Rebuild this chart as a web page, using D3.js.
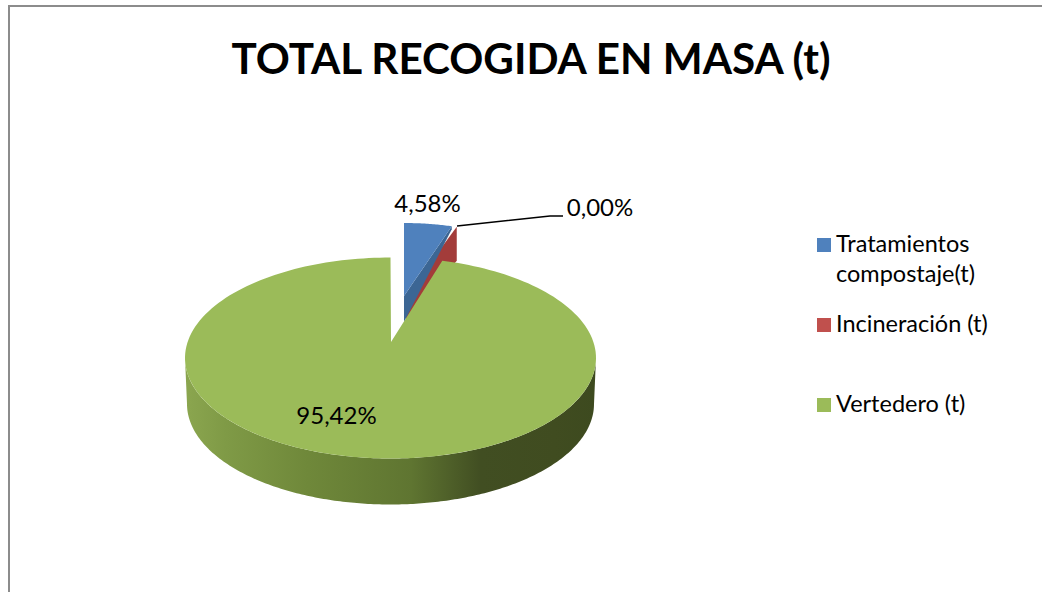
<!DOCTYPE html>
<html><head><meta charset="utf-8">
<script src="https://cdn.jsdelivr.net/npm/d3@7"></script>
<style>html,body{margin:0;padding:0;background:#fff}svg{display:block}text{font-family:Lato,"Open Sans",sans-serif;fill:#000}</style>
</head><body><svg id="c" width="1042" height="592"></svg>
<script>
const titleText = "TOTAL RECOGIDA EN MASA (t)";
const categories = ["Tratamientos compostaje(t)", "Incineración (t)", "Vertedero (t)"];
const legendLines = [["Tratamientos", "compostaje(t)"], ["Incineración (t)"], ["Vertedero (t)"]];
const values = [4.58, 0.00, 95.42];
const valueLabels = ["4,58%", "0,00%", "95,42%"];
const colors = ["#4f81bd", "#c0504d", "#9bbb59"];
const sideColors = ["#3c6694", "#a33c3a", "#6c8339"];

const svg = d3.select("#c");
const defs = svg.append("defs");
const grad = defs.append("linearGradient").attr("id","side").attr("gradientUnits","userSpaceOnUse")
  .attr("x1",185).attr("x2",596).attr("y1",0).attr("y2",0);
[[0,"#8ba64f"],[0.1,"#7f9a46"],[0.3,"#6f883a"],[0.55,"#5f7531"],[0.72,"#414e22"],[0.9,"#404c20"],[1,"#3d4a1f"]]
  .forEach(([o,c])=>grad.append("stop").attr("offset",o).attr("stop-color",c));

// chart frame: top and left edges only, as cropped in the picture
svg.append("path").attr("d","M9,592V6H1042").attr("fill","none").attr("stroke","#8c8c8c").attr("stroke-width",2);

svg.append("text").attr("x",531).attr("y",74).attr("text-anchor","middle")
  .attr("font-size",42.2).attr("font-weight",700).text(titleText);

// pie geometry
const pie = d3.pie().sort(null).value(d=>d);
const arcs = pie(values);
const geo = {cx:390.5, cy:358, rx:205.5, ry:100.5, depth:46, k:0.88};
const offsets = [
  {dx:13.5,dy:-34.5,shrink:16,hub:[404,296]},
  {dx:18.5,dy:-34,shrink:16,hub:[406,296]},
  {dx:0,dy:0,shrink:0,hub:[391,342]}
];
// angle foreshortened by the 3D view, then placed on the ellipse
const view = t=>Math.atan2(geo.k*Math.sin(t),Math.cos(t));
const rim = (t,o,shrink=o.shrink,dy=0)=>{
  const v=view(t);
  return [geo.cx+o.dx+(geo.rx-shrink)*Math.sin(v), geo.cy+o.dy+dy-geo.ry*Math.cos(v)];
};
const line = d3.line();
const samples = (a,b,n=200)=>d3.range(n+1).map(i=>a+(b-a)*i/n);

const g = svg.append("g");
// incineración: zero-width wedge, only its wall shows
{
  const a = arcs[1], o = offsets[1], t = a.startAngle;
  const p = rim(t,o), q = rim(t,o,o.shrink,34);
  g.append("path").attr("d",line([p,q,[o.hub[0],o.hub[1]+24],o.hub])+"Z").attr("fill",sideColors[1]);
}
// tratamientos
{
  const a = arcs[0], o = offsets[0];
  const ts = samples(a.startAngle,a.endAngle,30).map(t=>rim(t,o));
  const end = ts[ts.length-1];
  g.append("path").attr("d",line([end,[end[0],end[1]+3],[o.hub[0],o.hub[1]+26],o.hub])+"Z").attr("fill",sideColors[0]);
  g.append("path").attr("d",line([o.hub,...ts])+"Z").attr("fill",colors[0]);
}
// vertedero
{
  const a = arcs[2], o = offsets[2];
  const ts = samples(a.startAngle,a.endAngle);
  const front = samples(Math.PI/2,3*Math.PI/2);
  const top = front.map(t=>rim(t,o));
  const bot = front.map(t=>rim(t,o,2,geo.depth)).reverse();
  g.append("path").attr("d",line([...top,...bot])+"Z").attr("fill","url(#side)");
  g.append("path").attr("d",line([o.hub,...ts.map(t=>rim(t,o))])+"Z").attr("fill",colors[2]);
}
// labels
svg.append("text").attr("x",427.5).attr("y",212).attr("text-anchor","middle").attr("font-size",24).text(valueLabels[0]);
svg.append("text").attr("x",600).attr("y",216).attr("text-anchor","middle").attr("font-size",24).text(valueLabels[1]);
svg.append("text").attr("x",336.5).attr("y",424).attr("text-anchor","middle").attr("font-size",24).text(valueLabels[2]);
svg.append("path").attr("d","M457,226L550,216H563").attr("fill","none").attr("stroke","#000").attr("stroke-width",1.5);

// legend
const legendY = [252, 332, 412];
categories.forEach((c,i)=>{
  svg.append("rect").attr("x",817).attr("width",14).attr("height",14).attr("y",legendY[i]-14).attr("fill",colors[i]);
  legendLines[i].forEach((l,j)=>{
    svg.append("text").attr("x",836).attr("y",legendY[i]+j*30).attr("font-size",23.5).text(l);
  });
});
</script></body></html>
